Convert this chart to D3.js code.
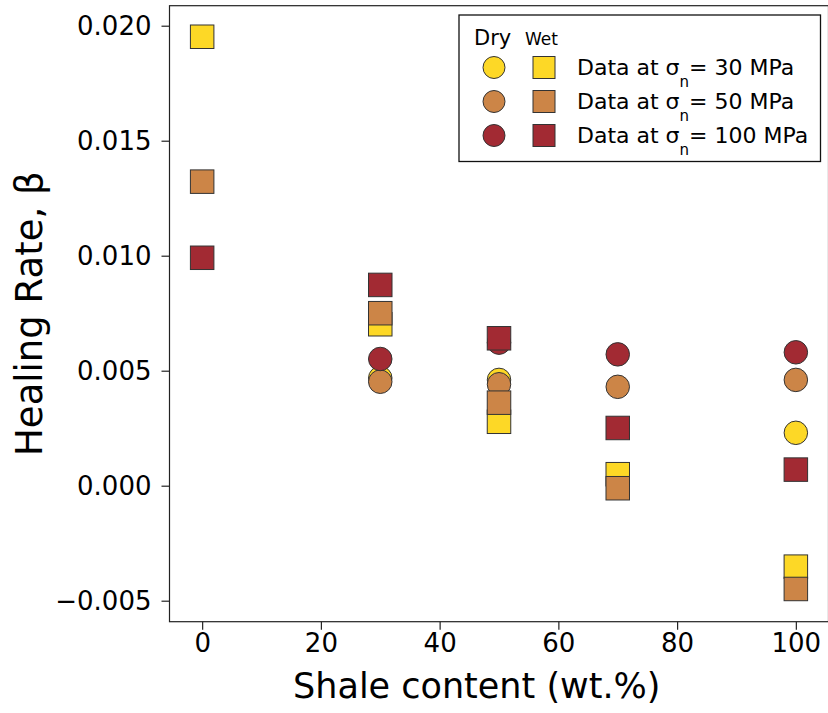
<!DOCTYPE html>
<html>
<head>
<meta charset="utf-8">
<script src="https://cdn.jsdelivr.net/npm/d3@7"></script>
<style>
  html, body { margin: 0; padding: 0; background: #fff; }
  svg { display: block; font-family: "DejaVu Sans", sans-serif; }
</style>
</head>
<body>
<svg id="chart" width="828" height="713"></svg>
<script>
// Shale content (wt.%) for each sample group
const dryShale = [30, 50, 70, 100];
const wetShale = [0, 30, 50, 70, 100];

// Healing rate β, dry samples (circles); null = no measurement
const dry30  = [0.00468, 0.00460, null, 0.00230];
const dry50  = [0.00452, 0.00441, 0.00430, 0.00460];
const dry100 = [0.00551, 0.00622, 0.00571, 0.00580];

// Healing rate β, wet samples (squares)
const wet30  = [0.01952, 0.00702, 0.00278, 0.00050, -0.00352];
const wet50  = [0.01322, 0.00750, 0.00361, -0.00011, -0.00449];
const wet100 = [0.00991, 0.00873, 0.00641, 0.00251, 0.00070];

const xTicks = [0, 20, 40, 60, 80, 100];
const yTicks = [-0.005, 0.000, 0.005, 0.010, 0.015, 0.020];

const stressLabels = ["30", "50", "100"];
const colors = ["#fdd826", "#cc8547", "#a22a33"];

const svg = d3.select("#chart");

const x = d3.scaleLinear().domain([-5.5, 105.5]).range([169.5, 828.5]);
const y = d3.scaleLinear().domain([-0.005913, 0.020870]).range([621.7, 5.7]);

const markerSize = 23.5;
const edge = "#333";

// plot frame
svg.append("rect")
  .attr("x", x.range()[0]).attr("y", y.range()[1])
  .attr("width", x.range()[1] - x.range()[0])
  .attr("height", y.range()[0] - y.range()[1])
  .attr("fill", "none").attr("stroke", "#222").attr("stroke-width", 1.2);

// axes
const xAxis = d3.axisBottom(x).tickValues(xTicks).tickFormat(d3.format("d"))
  .tickSize(8).tickPadding(4);
const yAxis = d3.axisLeft(y).tickValues(yTicks)
  .tickFormat(d => d3.format(".3f")(d).replace("-", "\u2212"))
  .tickSize(8).tickPadding(10);

const gx = svg.append("g").attr("transform", `translate(0,${y.range()[0]})`).call(xAxis);
const gy = svg.append("g").attr("transform", `translate(${x.range()[0]},0)`).call(yAxis);
[gx, gy].forEach(g => {
  g.select(".domain").remove();
  g.selectAll(".tick line").attr("stroke", "#222").attr("stroke-width", 1.2);
  g.selectAll(".tick text").attr("fill", "#000")
    .style("font-family", "DejaVu Sans").style("font-size", "26px");
});
gx.selectAll(".tick text").attr("dy", "0.71em");

// axis titles
svg.append("text")
  .attr("x", (x.range()[0] + 828) / 2 - 22).attr("y", 698)
  .attr("text-anchor", "middle").style("font-size", "35px")
  .text("Shale content (wt.%)");

svg.append("text")
  .attr("transform", `translate(42,${(y.range()[0] + y.range()[1]) / 2}) rotate(-90)`)
  .attr("text-anchor", "middle").style("font-size", "37px")
  .text("Healing Rate, \u03b2");

// data marks
const plot = svg.append("g");
const dryData = [dry30, dry50, dry100];
const wetData = [wet30, wet50, wet100];

dryData.forEach((vals, i) => {
  const pts = dryShale.map((s, j) => ({ s, v: vals[j] })).filter(d => d.v !== null);
  plot.append("g").selectAll("circle").data(pts).join("circle")
    .attr("cx", d => x(d.s)).attr("cy", d => y(d.v))
    .attr("r", markerSize / 2)
    .attr("fill", colors[i]).attr("stroke", edge).attr("stroke-width", 1);
});

wetData.forEach((vals, i) => {
  const pts = wetShale.map((s, j) => ({ s, v: vals[j] }));
  plot.append("g").selectAll("rect").data(pts).join("rect")
    .attr("x", d => x(d.s) - markerSize / 2).attr("y", d => y(d.v) - markerSize / 2)
    .attr("width", markerSize).attr("height", markerSize)
    .attr("fill", colors[i]).attr("stroke", edge).attr("stroke-width", 1);
});

// legend
const lg = svg.append("g");
lg.append("rect").attr("x", 459).attr("y", 15).attr("width", 361.5).attr("height", 146.5)
  .attr("fill", "#fff").attr("stroke", "#111").attr("stroke-width", 1.3);
lg.append("text").attr("x", 474).attr("y", 45).style("font-size", "21px").text("Dry");
lg.append("text").attr("x", 525).attr("y", 45).style("font-size", "17px").text("Wet");

const legendSize = 22;
stressLabels.forEach((lab, i) => {
  const cy = 67.5 + i * 34;
  lg.append("circle").attr("cx", 494).attr("cy", cy).attr("r", legendSize / 2)
    .attr("fill", colors[i]).attr("stroke", edge).attr("stroke-width", 1);
  lg.append("rect").attr("x", 544 - legendSize / 2).attr("y", cy - legendSize / 2)
    .attr("width", legendSize).attr("height", legendSize)
    .attr("fill", colors[i]).attr("stroke", edge).attr("stroke-width", 1);
  const t = lg.append("text").attr("x", 577).attr("y", cy + 7).style("font-size", "22px");
  t.append("tspan").text("Data at \u03c3");
  t.append("tspan").attr("dy", 12).style("font-size", "15px").text("n");
  t.append("tspan").attr("dy", -12).text(`= ${lab} MPa`);
});
</script>
</body>
</html>
